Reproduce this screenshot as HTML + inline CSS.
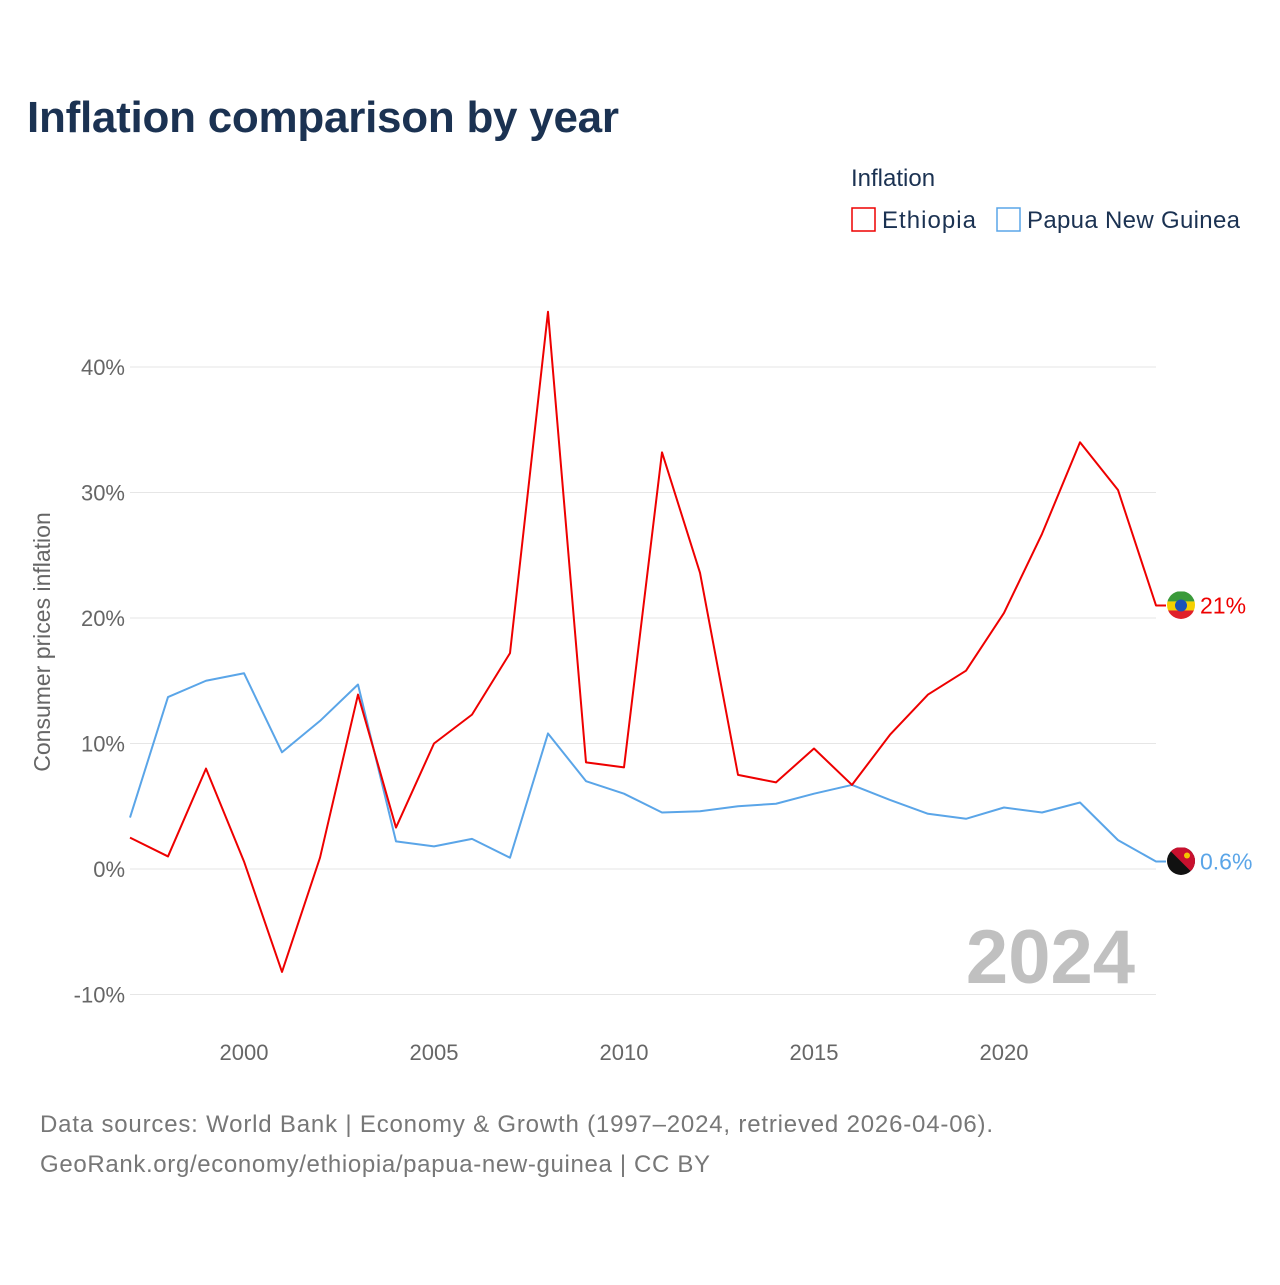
<!DOCTYPE html>
<html><head><meta charset="utf-8">
<style>
html,body{margin:0;padding:0;background:#fff;}
body{width:1280px;height:1280px;overflow:hidden;font-family:"Liberation Sans",sans-serif;}
</style></head>
<body>
<svg id="chart" width="1280" height="1280" xmlns="http://www.w3.org/2000/svg" font-family="Liberation Sans, sans-serif">
  <defs>
    <clipPath id="c1"><circle cx="1181" cy="605" r="14"/></clipPath>
    <clipPath id="c2"><circle cx="1181" cy="861" r="14"/></clipPath>
  </defs>
  <text x="27" y="132" font-size="44" font-weight="bold" fill="#1b3252" textLength="592">Inflation comparison by year</text>
  <text x="851" y="186" font-size="24" fill="#1b3252">Inflation</text>
  <g>
    <rect x="852" y="208" width="23" height="23" fill="#fff" stroke="#ee0000" stroke-width="1.5"/>
    <text x="882" y="228" font-size="24" fill="#1b3252" textLength="94">Ethiopia</text>
  </g>
  <g>
    <rect x="997" y="208" width="23" height="23" fill="#fff" stroke="#5aa5e8" stroke-width="1.5"/>
    <text x="1027" y="228" font-size="24" fill="#1b3252" textLength="213">Papua New Guinea</text>
  </g>
  <text transform="translate(50,642) rotate(-90)" text-anchor="middle" font-size="23" fill="#666">Consumer prices inflation</text>
  <g id="grid"></g>
  <g id="xticks"></g>
  <text x="1135" y="983" text-anchor="end" font-size="76" font-weight="bold" fill="#c0c0c0">2024</text>
  <g id="series"></g>
  <text x="40" y="1132" font-size="24" fill="#777" textLength="953">Data sources: World Bank | Economy &amp; Growth (1997–2024, retrieved 2026-04-06).</text>
  <text x="40" y="1172" font-size="24" fill="#777" textLength="670">GeoRank.org/economy/ethiopia/papua-new-guinea | CC BY</text>
</svg>
<script>
const years=[1997,1998,1999,2000,2001,2002,2003,2004,2005,2006,2007,2008,2009,2010,2011,2012,2013,2014,2015,2016,2017,2018,2019,2020,2021,2022,2023,2024];
const ethiopia=[2.5,1.0,8.0,0.6,-8.2,0.9,13.9,3.3,10.0,12.3,17.2,44.4,8.5,8.1,33.2,23.6,7.5,6.9,9.6,6.7,10.7,13.9,15.8,20.4,26.7,34.0,30.2,21.0];
const png=[4.1,13.7,15.0,15.6,9.3,11.8,14.7,2.2,1.8,2.4,0.9,10.8,7.0,6.0,4.5,4.6,5.0,5.2,6.0,6.7,5.5,4.4,4.0,4.9,4.5,5.3,2.3,0.6];
const yTicks=[-10,0,10,20,30,40];
const xTicks=[2000,2005,2010,2015,2020];
const endLabels=["21%","0.6%"];
const NS="http://www.w3.org/2000/svg";
const X=y=>130+(y-1997)*38;
const Y=v=>869-v*12.55;
function el(t,a,p){const e=document.createElementNS(NS,t);for(const k in a)e.setAttribute(k,a[k]);p.appendChild(e);return e;}
const grid=document.getElementById('grid');
yTicks.forEach(v=>{
  const l=el('line',{x1:130,x2:1156,y1:Y(v),y2:Y(v),stroke:'#e6e6e6','stroke-width':1},grid);
  
  
  const t=el('text',{x:125,y:Y(v)+8,'text-anchor':'end','font-size':22,fill:'#666'},grid);
  t.textContent=v+'%';
  
  
});
const xt=document.getElementById('xticks');
xTicks.forEach(y=>{
  const t=el('text',{x:X(y),y:1060,'text-anchor':'middle','font-size':22,fill:'#666'},xt);
  t.textContent=y;
  
  
});
const sg=document.getElementById('series');
function draw(vals,color,name,label){
  let d=vals.map((v,i)=>(i?'L':'M')+X(years[i])+','+Y(vals[i])).join(' ');
  const last=Y(vals[vals.length-1]);
  d+=' L1166,'+last;
  const p=el('path',{d:d,fill:'none',stroke:color,'stroke-width':2,'stroke-linejoin':'round'},sg);
  
  
  const g=el('g',{'clip-path':name==='ethiopia'?'url(#c1)':'url(#c2)'},sg);
  
  
  if(name==='ethiopia'){
    el('rect',{x:1167,y:last-14,width:28,height:10,fill:'#3a9a3a'},g);
    el('rect',{x:1167,y:last-4,width:28,height:9,fill:'#f5d000'},g);
    el('rect',{x:1167,y:last+5,width:28,height:10,fill:'#e0202a'},g);
    el('circle',{cx:1181,cy:last,r:6,fill:'#1c52b8'},g);
  } else {
    el('rect',{x:1167,y:last-14,width:28,height:28,fill:'#111'},g);
    el('polygon',{points:'1167,'+(last-14)+' 1195,'+(last-14)+' 1195,'+(last+14),fill:'#c8102e'},g);
    el('circle',{cx:1187,cy:last-6,r:3,fill:'#f3c500'},g);
  }
  const t=el('text',{x:1200,y:last+8,'font-size':23,fill:color},sg);
  t.textContent=label;
  
  
}
draw(png,'#5aa5e8','papua-new-guinea',endLabels[1]);
draw(ethiopia,'#ee0000','ethiopia',endLabels[0]);
</script>
</body></html>
